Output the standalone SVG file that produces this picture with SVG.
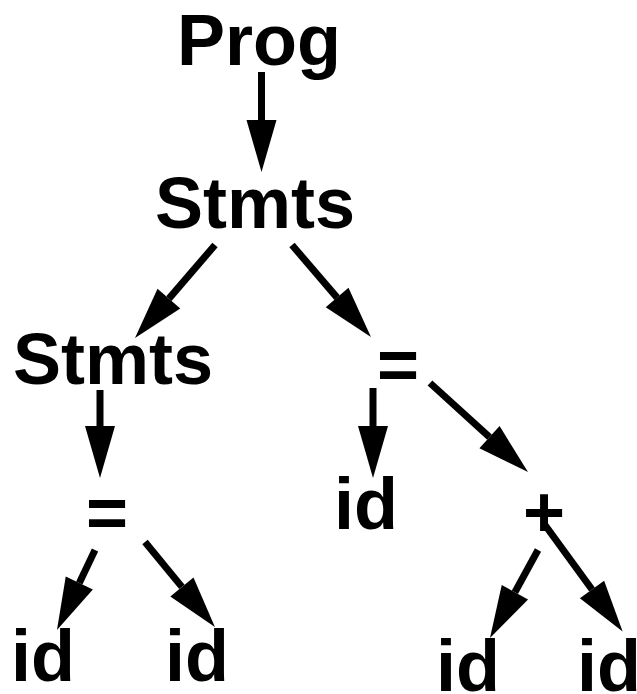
<svg xmlns="http://www.w3.org/2000/svg" width="637" height="694" viewBox="0 0 637 694">
<style>
  text { font-family: "Liberation Sans", Arial, sans-serif; font-weight: bold; font-size: 72px; fill: #000; text-anchor: middle; }
  .edge { stroke: #000; stroke-width: 7; fill: none; marker-end: url(#ah); }
</style>
<defs>
  <marker id="ah" markerUnits="userSpaceOnUse" markerWidth="56" markerHeight="34" refX="0" refY="15" orient="auto" overflow="visible">
    <path d="M0,0 L52,15 L0,30 Z" fill="#000"/>
  </marker>
</defs>
<rect width="637" height="694" fill="#fff"/>
<g id="n-prog"><text x="259" y="65">Prog</text></g>
<g id="n-stmts1"><text x="255" y="228">Stmts</text></g>
<g id="n-stmts2"><text x="113" y="384">Stmts</text></g>
<g id="n-eq1"><text x="398" y="389">=</text></g>
<g id="n-eq2"><text x="107" y="537">=</text></g>
<g id="n-id-mid"><text x="366" y="529">id</text></g>
<g id="n-plus"><text x="544" y="537">+</text></g>
<g id="n-id1"><text x="43" y="681">id</text></g>
<g id="n-id2"><text x="197" y="681">id</text></g>
<g id="n-id3"><text x="468" y="691">id</text></g>
<g id="n-id4"><text x="609" y="691">id</text></g>
<g id="edges">
  <line class="edge" x1="261.5" y1="72" x2="261.5" y2="120"/>
  <line class="edge" x1="215" y1="245" x2="168.9" y2="298.6"/>
  <line class="edge" x1="292" y1="245" x2="337.1" y2="297.6"/>
  <line class="edge" x1="100" y1="390" x2="100" y2="426"/>
  <line class="edge" x1="373" y1="388" x2="373" y2="426"/>
  <line class="edge" x1="430" y1="383" x2="489.5" y2="437.1"/>
  <line class="edge" x1="95" y1="550" x2="79.3" y2="583"/>
  <line class="edge" x1="145" y1="542" x2="181.9" y2="586.9"/>
  <line class="edge" x1="538" y1="550" x2="514.9" y2="592.3"/>
  <line class="edge" x1="545" y1="525" x2="592" y2="589.5"/>
</g>
</svg>
